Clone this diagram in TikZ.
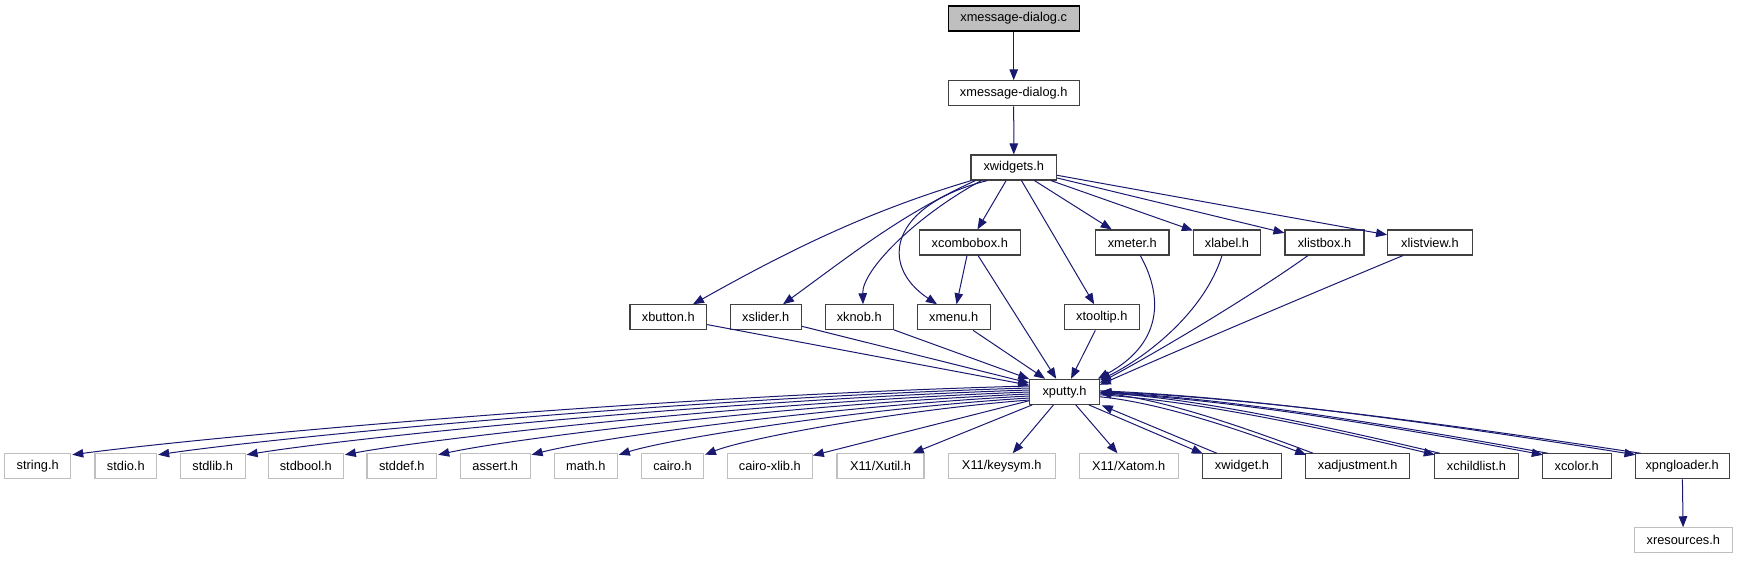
\documentclass[tikz,border=0pt]{standalone}
\usepackage{fontspec}
\setmainfont{Liberation Sans}
\usetikzlibrary{arrows.meta,calc}
\definecolor{edgeblue}{HTML}{191970}
\definecolor{boxline}{HTML}{404040}
\definecolor{sysline}{HTML}{BFBFBF}
\definecolor{rootfill}{HTML}{BFBFBF}
\tikzset{
  filebox/.style={draw=boxline, line width=1.1pt, rectangle, minimum height=25pt,
    inner sep=0pt, fill=white, text=black, font=\fontsize{12.8}{15}\selectfont},
  sysbox/.style={filebox, draw=sysline},
  rootbox/.style={filebox, draw=black, fill=rootfill},
  edge/.style={draw=edgeblue, line width=1pt, -{Triangle[length=11pt,width=8.5pt]}},
}
\begin{document}
\begin{tikzpicture}[x=1pt,y=-1pt]
\useasboundingbox (0,0) rectangle (1737,560);
% row 1-3
\node[rootbox, minimum width=130.7pt] (mdc) at (1013.7,18.5) {xmessage-dialog.c};
\node[filebox, minimum width=130.7pt] (mdh) at (1013.7,93.3) {xmessage-dialog.h};
\node[filebox, minimum width=85.7pt] (xw) at (1013.8,167.5) {xwidgets.h};
% row 4
\node[filebox, minimum width=100.7pt] (xcombobox) at (969.8,242.5) {xcombobox.h};
\node[filebox, minimum width=73.3pt] (xmeter) at (1132.3,242.5) {xmeter.h};
\node[filebox, minimum width=67.3pt] (xlabel) at (1227,242.5) {xlabel.h};
\node[filebox, minimum width=79pt] (xlistbox) at (1324.5,242.5) {xlistbox.h};
\node[filebox, minimum width=84.7pt] (xlistview) at (1430,242.5) {xlistview.h};
% row 5
\node[filebox, minimum width=76.7pt] (xbutton) at (668.3,317.3) {xbutton.h};
\node[filebox, minimum width=71.3pt] (xslider) at (765.7,317.3) {xslider.h};
\node[filebox, minimum width=68.3pt] (xknob) at (859.2,317.3) {xknob.h};
\node[filebox, minimum width=72.7pt] (xmenu) at (953.7,317.3) {xmenu.h};
\node[filebox, minimum width=75pt] (xtooltip) at (1101.8,317.3) {xtooltip.h};
% row 6
\node[filebox, minimum width=69.5pt] (xputty) at (1064.5,391.8) {xputty.h};
% row 7
\node[sysbox, minimum width=66pt] (string) at (37.7,466.3) {string.h};
\node[sysbox, minimum width=61.7pt] (stdio) at (125.8,466.3) {stdio.h};
\node[sysbox, minimum width=64.7pt] (stdlib) at (212.7,466.3) {stdlib.h};
\node[sysbox, minimum width=75pt] (stdbool) at (305.8,466.3) {stdbool.h};
\node[sysbox, minimum width=69.7pt] (stddef) at (401.8,466.3) {stddef.h};
\node[sysbox, minimum width=69.7pt] (assert) at (495.2,466.3) {assert.h};
\node[sysbox, minimum width=63pt] (math) at (585.8,466.3) {math.h};
\node[sysbox, minimum width=61.7pt] (cairo) at (672.5,466.3) {cairo.h};
\node[sysbox, minimum width=85pt] (cairoxlib) at (769.8,466.3) {cairo-xlib.h};
\node[sysbox, minimum width=87pt] (xutil) at (880.5,466.3) {X11/Xutil.h};
\node[sysbox, minimum width=106.7pt] (keysym) at (1001.7,466.3) {X11/keysym.h};
\node[sysbox, minimum width=99.3pt] (xatom) at (1128.7,466.3) {X11/Xatom.h};
\node[filebox, minimum width=79.3pt] (xwidget) at (1242,466.3) {xwidget.h};
\node[filebox, minimum width=104pt] (xadj) at (1357.7,466.3) {xadjustment.h};
\node[filebox, minimum width=84.3pt] (xchild) at (1476.5,466.3) {xchildlist.h};
\node[filebox, minimum width=68.7pt] (xcolor) at (1576.7,466.3) {xcolor.h};
\node[filebox, minimum width=94.3pt] (xpng) at (1682.2,466.3) {xpngloader.h};
% row 8
\node[sysbox, minimum width=98pt] (xres) at (1683.3,540.3) {xresources.h};

% edges top
\draw[edge] (mdc) -- (mdh);
\draw[edge] (mdh) -- (xw);
% xwidgets.h
\draw[edge] ($(xw.south west)+(1,0)$) .. controls (872,210) and (793,248) .. ($(xbutton.north)+(24.7,0)$);
\draw[edge] ($(xw.south west)+(5,0)$) .. controls (901,215) and (858,249.5) .. ($(xslider.north)+(17.3,0)$);
\draw[edge] ($(xw.south west)+(11,0)$) .. controls (916,216) and (862,270) .. ($(xknob.north)+(3.8,0)$);
\draw[edge] ($(xw.south west)+(17,0)$) .. controls (890,205) and (878,265) .. ($(xmenu.north)+(-16.7,0)$);
\draw[edge] (xw) -- (xcombobox);
\draw[edge] (xw) -- (xtooltip);
\draw[edge] (xw) -- (xmeter);
\draw[edge] (xw) -- (xlabel);
\draw[edge] (xw) -- (xlistbox);
\draw[edge] (xw) -- (xlistview);
\draw[edge] (xcombobox) -- (xmenu);
% into xputty.h
\draw[edge] (xbutton) -- (xputty);
\draw[edge] (xslider) -- (xputty);
\draw[edge] (xknob) -- (xputty);
\draw[edge] (xmenu) -- (xputty);
\draw[edge] (xcombobox) -- (xputty);
\draw[edge] (xtooltip) -- (xputty);
\draw[edge] ($(xmeter.south)+(8,0)$) .. controls (1165,300) and (1160,345) .. ($(xputty.north east)+(-2,0)$);
\draw[edge] ($(xlabel.south)+(-5,0)$) .. controls (1205,310) and (1150,355) .. ($(xputty.north east)+(0,1.5)$);
\draw[edge] ($(xlistbox.south)+(-16.5,0)$) .. controls (1260,290) and (1170,345) .. ($(xputty.east)+(0,-9)$);
\draw[edge] ($(xlistview.south)+(-27,0)$) .. controls (1320,290) and (1190,345) .. ($(xputty.east)+(0,-7)$);
% xputty.h to the left
\draw[edge] ($(xputty.west)+(0,-5.8)$) .. controls (647,396) and (197,438) .. ($(string.north east)+(1,1.5)$);
\draw[edge] ($(xputty.west)+(0,-3.8)$) .. controls (681,398) and (271,438) .. ($(stdio.north east)+(1,1.5)$);
\draw[edge] ($(xputty.west)+(0,-1.8)$) .. controls (717,400) and (349,438) .. ($(stdlib.north east)+(1,1.5)$);
\draw[edge] ($(xputty.west)+(0,0.2)$) .. controls (756,402) and (434,438) .. ($(stdbool.north east)+(1,1.5)$);
\draw[edge] ($(xputty.west)+(0,2.2)$) .. controls (793,404) and (515,438) .. ($(stddef.north east)+(1,1.5)$);
\draw[edge] ($(xputty.west)+(0,4.2)$) .. controls (830.6,406) and (596,438) .. ($(assert.north east)+(1,1.5)$);
\draw[edge] ($(xputty.west)+(0,6.2)$) .. controls (865.6,408) and (672.4,438) .. ($(math.north east)+(1,1.5)$);
\draw[edge] ($(xputty.west)+(0,8.2)$) .. controls (900,410) and (747,438) .. ($(cairo.north east)+(1,1.5)$);
\draw[edge] (xputty) -- (cairoxlib);
\draw[edge] (xputty) -- (xutil);
\draw[edge] (xputty) -- (keysym);
\draw[edge] (xputty) -- (xatom);
% xputty.h <-> local headers
\draw[edge] ($(xputty.south east)+(-11,0)$) -- ($(xwidget.north west)+(1,0.5)$);
\draw[edge] ($(xwidget.north west)+(15,0)$) -- ($(xputty.south east)+(2,0.5)$);
\draw[edge] ($(xputty.east)+(0,5)$) .. controls (1161.5,402.6) and (1244.5,431.6) .. ($(xadj.north west)+(1,1.5)$);
\draw[edge] ($(xadj.north west)+(8,0)$) .. controls (1249.5,429.3) and (1164,399.3) .. ($(xputty.east)+(0.5,1.5)$);
\draw[edge] ($(xputty.east)+(0,3)$) .. controls (1200,400.8) and (1334.5,430.8) .. ($(xchild.north west)+(1,1.5)$);
\draw[edge] ($(xchild.north west)+(6,0)$) .. controls (1338.2,429.1) and (1202,398.9) .. ($(xputty.east)+(0.5,1)$);
\draw[edge] ($(xputty.east)+(0,1)$) .. controls (1232.5,399) and (1410.1,430) .. ($(xcolor.north west)+(1,1.5)$);
\draw[edge] ($(xcolor.north west)+(6,0)$) .. controls (1413.8,428.9) and (1234.4,398.4) .. ($(xputty.east)+(0.5,0.5)$);
\draw[edge] ($(xputty.east)+(0,-1)$) .. controls (1260.3,397.2) and (1475,429.2) .. ($(xpng.north west)+(1,1.5)$);
\draw[edge] ($(xpng.north west)+(6,0)$) .. controls (1478.6,428.7) and (1262.2,398) .. ($(xputty.east)+(0.5,0)$);
\draw[edge] (xpng) -- (xres);
\end{tikzpicture}
\end{document}
